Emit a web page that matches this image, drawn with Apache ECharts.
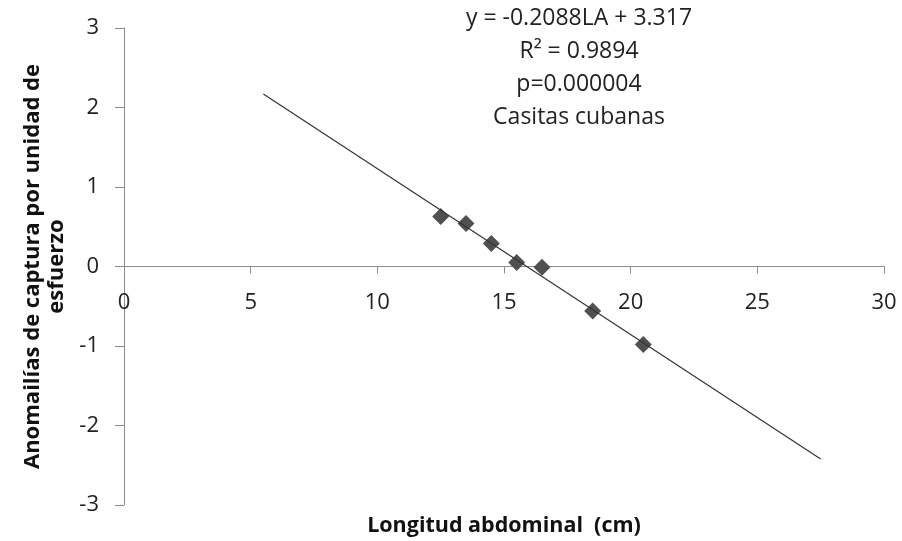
<!DOCTYPE html>
<html>
<head>
<meta charset="utf-8">
<script src="https://cdn.jsdelivr.net/npm/echarts@6/dist/echarts.min.js"></script>
<style>
  html, body { margin: 0; padding: 0; background: #fff; }
  #main { width: 902px; height: 541px; }
</style>
</head>
<body>
<div id="main"></div>
<script>
// longitud abdominal (cm) y anomalías de captura
const longitud = [12.5, 13.5, 14.5, 15.5, 16.5, 18.5, 20.5];
const anomalias = [0.63, 0.54, 0.29, 0.05, -0.01, -0.56, -0.98];
// extremos de la línea de tendencia
const trendX = [5.5, 27.5];
const trendY = [2.17, -2.42];
const etiquetas = ['y = -0.2088LA + 3.317', 'R² = 0.9894', 'p=0.000004', 'Casitas cubanas'];

const font = '"Open Sans", Lato, sans-serif';
const chart = echarts.init(document.getElementById('main'));

const gridTop = 28, gridBottom = 36, H = 541;
// el eje x cruza en y = 0 (centro del área del gráfico)
const xOffset = -((H - gridTop - gridBottom) / 2);

chart.setOption({
  animation: false,
  grid: { left: 124, right: 18, top: gridTop, bottom: gridBottom, outerBoundsMode: 'none', containLabel: false },
  xAxis: {
    type: 'value', min: 0, max: 30, interval: 5,
    offset: xOffset,
    axisLine: { onZero: false, lineStyle: { color: '#8c8c8c', width: 1 } },
    axisTick: { show: true, length: 7, lineStyle: { color: '#8c8c8c' } },
    axisLabel: { color: '#222', fontSize: 22, fontFamily: font, margin: 25 },
    splitLine: { show: false },
    name: 'Longitud abdominal  (cm)', nameLocation: 'middle', nameGap: 248,
    nameTextStyle: { color: '#111', fontSize: 21.5, fontWeight: 'bold', fontFamily: font }
  },
  yAxis: {
    type: 'value', min: -3, max: 3, interval: 1,
    axisLine: { show: true, onZero: false, lineStyle: { color: '#8c8c8c', width: 1 } },
    axisTick: { show: true, length: 9, lineStyle: { color: '#8c8c8c' } },
    axisLabel: { color: '#222', fontSize: 22, fontFamily: font, margin: 25 },
    splitLine: { show: false },
    name: 'Anomailías de captura por unidad de\nesfuerzo', nameLocation: 'middle', nameGap: 54,
    nameRotate: 90,
    nameTextStyle: { color: '#111', fontSize: 22, fontWeight: 'bold', fontFamily: font, lineHeight: 24 }
  },
  graphic: [{
    type: 'text', x: 579, y: 2,
    style: {
      text: etiquetas.join('\n'), align: 'center', verticalAlign: 'top',
      font: '23px ' + font, fill: '#222', lineHeight: 33
    },
    z: 10
  }],
  series: [
    {
      type: 'line', data: trendX.map((x, i) => [x, trendY[i]]),
      symbol: 'none', lineStyle: { color: '#333', width: 1.2 }, z: 3
    },
    {
      type: 'scatter', data: longitud.map((x, i) => [x, anomalias[i]]),
      symbol: 'diamond', symbolSize: [17, 17],
      itemStyle: { color: '#505050', opacity: 1 }, z: 2
    }
  ]
});
</script>
</body>
</html>
